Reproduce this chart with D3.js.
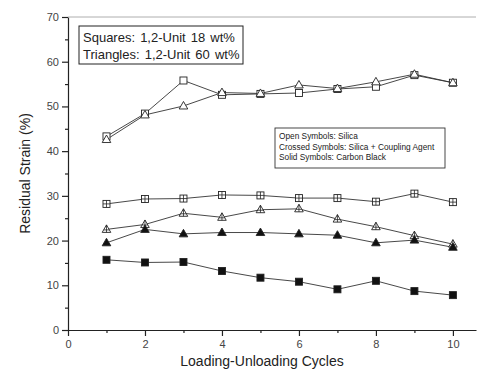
<!DOCTYPE html>
<html>
<head>
<meta charset="utf-8">
<script src="https://cdn.jsdelivr.net/npm/d3@7"></script>
<style>
  body { margin: 0; background: #fff; }
  text { font-family: "Liberation Sans", Arial, sans-serif; }
</style>
</head>
<body>
<div id="chart"></div>
<script>
// Dados
const cycles = [1, 2, 3, 4, 5, 6, 7, 8, 9, 10];
const openSquares = [43.3, 48.4, 55.8, 52.6, 52.8, 53.0, 53.9, 54.4, 57.0, 55.3];
const openTriangles = [42.6, 48.1, 50.1, 53.1, 52.9, 54.8, 54.0, 55.5, 57.2, 55.3];
const crossedSquares = [28.2, 29.3, 29.4, 30.2, 30.1, 29.5, 29.5, 28.7, 30.5, 28.6];
const crossedTriangles = [22.5, 23.6, 26.1, 25.2, 26.9, 27.1, 24.8, 23.1, 21.1, 19.2];
const solidTriangles = [19.5, 22.5, 21.5, 21.8, 21.8, 21.5, 21.2, 19.5, 20.1, 18.5];
const solidSquares = [15.7, 15.1, 15.2, 13.2, 11.7, 10.8, 9.1, 11.0, 8.7, 7.8];

const xTicks = [0, 2, 4, 6, 8, 10];
const yTicks = [0, 10, 20, 30, 40, 50, 60, 70];

const width = 484;
const height = 375;
const margin = { top: 17, right: 8, bottom: 45, left: 68 };

const svg = d3.select("#chart")
    .append("svg")
    .attr("width", width)
    .attr("height", height);

const x = d3.scaleLinear().domain([0, 10.6]).range([margin.left, width - margin.right]);
const y = d3.scaleLinear().domain([0, 70]).range([height - margin.bottom, margin.top]);

// Eixo X
svg.append("g")
    .attr("transform", `translate(0,${y(0)})`)
    .call(d3.axisBottom(x).tickValues(xTicks).tickSize(6).tickSizeOuter(0).tickPadding(4));
svg.append("g")
    .attr("transform", `translate(0,${y(0)})`)
    .call(d3.axisBottom(x).tickValues([1, 3, 5, 7, 9]).tickSize(3).tickFormat(""))
    .call(g => g.select(".domain").remove());

// Eixo Y
svg.append("g")
    .attr("transform", `translate(${x(0)},0)`)
    .call(d3.axisLeft(y).tickValues(yTicks).tickSize(6).tickSizeOuter(0).tickPadding(3));
svg.append("g")
    .attr("transform", `translate(${x(0)},0)`)
    .call(d3.axisLeft(y).tickValues([5, 15, 25, 35, 45, 55, 65]).tickSize(3).tickFormat(""))
    .call(g => g.select(".domain").remove());

svg.selectAll(".tick text")
    .attr("font-size", 11)
    .attr("fill", "#444");
svg.selectAll(".domain, .tick line")
    .attr("stroke", "#222")
    .attr("stroke-width", 1.2);

// Linha superior
svg.append("line")
    .attr("x1", x(0)).attr("x2", x(10.6))
    .attr("y1", y(70)).attr("y2", y(70))
    .attr("stroke", "#999")
    .attr("stroke-width", 0.8);

// Títulos
svg.append("text")
    .attr("x", 262).attr("y", 366)
    .attr("text-anchor", "middle")
    .attr("font-size", 14)
    .attr("fill", "#222")
    .text("Loading-Unloading Cycles");

svg.append("text")
    .attr("transform", `translate(30,${y(35)}) rotate(-90)`)
    .attr("text-anchor", "middle")
    .attr("font-size", 14)
    .attr("fill", "#222")
    .text("Residual Strain (%)");

// Séries
const series = [
    { values: openSquares, shape: "square", style: "open" },
    { values: openTriangles, shape: "triangle", style: "open" },
    { values: crossedSquares, shape: "square", style: "crossed" },
    { values: crossedTriangles, shape: "triangle", style: "crossed" },
    { values: solidTriangles, shape: "triangle", style: "solid" },
    { values: solidSquares, shape: "square", style: "solid" }
];

const line = d3.line()
    .x((d, i) => x(cycles[i]))
    .y(d => y(d));

series.forEach(s => {
    svg.append("path")
        .datum(s.values)
        .attr("fill", "none")
        .attr("stroke", "#333")
        .attr("stroke-width", 0.9)
        .attr("d", line);
});

series.forEach(s => {
    const g = svg.append("g");
    s.values.forEach((v, i) => {
        const cx = x(cycles[i]);
        const cy = y(v);
        const fill = s.style === "solid" ? "#111" : "#fff";
        if (s.shape === "square") {
            g.append("rect")
                .attr("x", cx - 3.5).attr("y", cy - 3.5)
                .attr("width", 7).attr("height", 7)
                .attr("fill", fill)
                .attr("stroke", "#222")
                .attr("stroke-width", 0.9);
        } else {
            g.append("path")
                .attr("d", `M${cx},${cy - 4.5}L${cx + 4.3},${cy + 3}L${cx - 4.3},${cy + 3}Z`)
                .attr("fill", fill)
                .attr("stroke", "#222")
                .attr("stroke-width", 0.9);
        }
        if (s.style === "crossed") {
            const top = s.shape === "square" ? cy - 3.5 : cy - 4.5;
            const bottom = s.shape === "square" ? cy + 3.5 : cy + 3;
            const half = s.shape === "square" ? 3.5 : 2.8;
            const midY = s.shape === "square" ? cy : cy + 0.5;
            g.append("line")
                .attr("x1", cx).attr("x2", cx)
                .attr("y1", top).attr("y2", bottom)
                .attr("stroke", "#222").attr("stroke-width", 0.8);
            g.append("line")
                .attr("x1", cx - half).attr("x2", cx + half)
                .attr("y1", midY).attr("y2", midY)
                .attr("stroke", "#222").attr("stroke-width", 0.8);
        }
    });
});

// Caixa de legenda 1
svg.append("rect")
    .attr("x", 79).attr("y", 26)
    .attr("width", 164).attr("height", 38)
    .attr("fill", "#fff")
    .attr("stroke", "#222")
    .attr("stroke-width", 1);
svg.append("text")
    .attr("x", 83).attr("y", 42)
    .attr("font-size", 13)
    .attr("word-spacing", 1.5)
    .attr("fill", "#222")
    .text("Squares: 1,2-Unit 18 wt%");
svg.append("text")
    .attr("x", 83).attr("y", 59)
    .attr("font-size", 13)
    .attr("word-spacing", 1.5)
    .attr("fill", "#222")
    .text("Triangles: 1,2-Unit 60 wt%");

// Caixa de legenda 2
svg.append("rect")
    .attr("x", 275).attr("y", 128)
    .attr("width", 170).attr("height", 40)
    .attr("fill", "#fff")
    .attr("stroke", "#333")
    .attr("stroke-width", 0.9);
const notes = ["Open Symbols: Silica", "Crossed Symbols: Silica + Coupling Agent", "Solid Symbols: Carbon Black"];
notes.forEach((t, i) => {
    svg.append("text")
        .attr("x", 279).attr("y", 139 + i * 10.7)
        .attr("font-size", 8.3)
        .attr("fill", "#222")
        .text(t);
});
</script>
</body>
</html>
